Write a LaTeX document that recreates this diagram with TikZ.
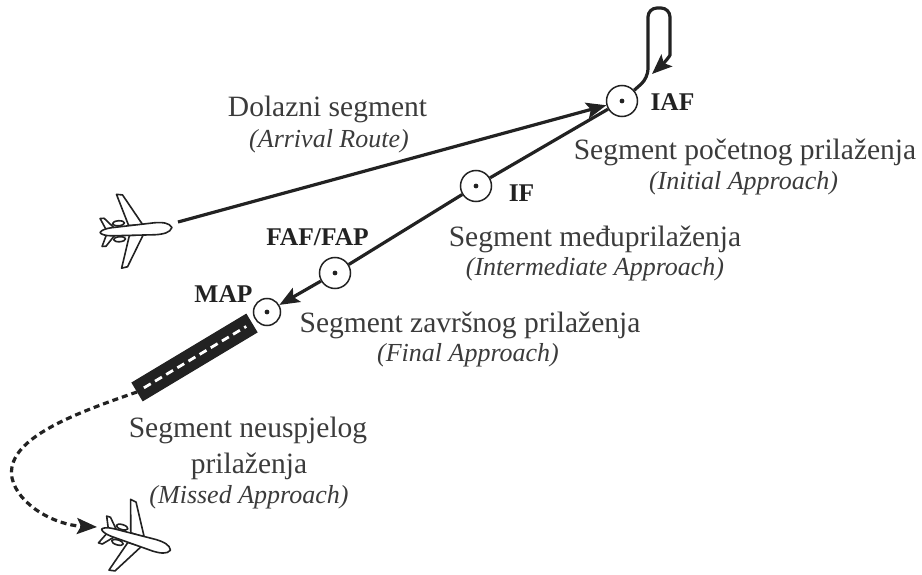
\documentclass[tikz,border=0pt]{standalone}
\usepackage{fontspec}
\setmainfont{Liberation Serif}
\usepackage{xcolor}
\usepackage{tikz}
\usetikzlibrary{arrows.meta}
\usetikzlibrary{calc}
\usetikzlibrary{positioning}

\definecolor{ink}{HTML}{222222}
\definecolor{txt}{HTML}{3B3B3B}

\tikzset{jet/.style={draw=ink, fill=white, line width=1.6pt, line join=round}}

\newcommand{\aircraft}[3]{%
  \begin{scope}[shift={(#1,#2)}, rotate=#3]
    \filldraw[jet] (6,-5) -- (-12,-36) -- (-18,-37) -- (-8,-5) -- cycle;
    \filldraw[jet] (6,5) -- (-12,36) -- (-18,37) -- (-8,5) -- cycle;
    \filldraw[jet] (-22,-3) -- (-32,-14) -- (-36,-14) -- (-31,-3) -- cycle;
    \filldraw[jet] (-22,3) -- (-32,14) -- (-36,14) -- (-31,3) -- cycle;
    \filldraw[jet] (35,0) .. controls (33,-5) and (26,-6) .. (18,-6) -- (-26,-4)
      .. controls (-32,-3.5) and (-36,-2) .. (-37,0)
      .. controls (-36,2) and (-32,3.5) .. (-26,4) -- (18,6)
      .. controls (26,6) and (33,5) .. (35,0) -- cycle;
    \filldraw[jet] (-18,-8) ellipse (6 and 2.5);
    \filldraw[jet] (-18,8) ellipse (6 and 2.5);
  \end{scope}}

\begin{document}
\begin{tikzpicture}[x=1pt, y=-1pt]
  \tikzstyle{fix}=[draw=ink, circle, line width=1.5pt, minimum size=31pt, inner sep=0pt,
    path picture={\fill[ink] (path picture bounding box.center) circle (2.4pt);}]
  \tikzstyle{route}=[draw=ink, line width=3.2pt]
  \tikzstyle{tip}=[-{Stealth[length=20pt,width=16pt,inset=4pt]}]
  \tikzstyle{seg}=[text=txt, inner sep=0pt, anchor=base, font=\fontsize{29.5}{34}\selectfont]
  \tikzstyle{eng}=[text=txt, inner sep=0pt, anchor=base, font=\fontsize{26}{30}\selectfont\itshape]
  \tikzstyle{lbl}=[text=ink, inner sep=0pt, anchor=base, font=\fontsize{25.5}{30}\selectfont\bfseries]

  \useasboundingbox (0,0) rectangle (922,575);

  % fixes
  \node[fix] (IAF) at (622,101) {};
  \node[fix] (IF) at (476,186) {};
  \node[fix] (FAF) at (335,273) {};
  \node[fix, minimum size=27pt] (MAP) at (267,312) {};

  \node[lbl] (IAFl) at (672.5,111) {IAF};
  \node[lbl] (IFl) at (521.5,202) {IF};
  \node[lbl] (FAFl) at (317.5,246) {FAF/FAP};
  \node[lbl] (MAPl) at (223.5,302) {MAP};

  % runway
  \coordinate (rwA) at (137,392);
  \coordinate (rwB) at (252,323);
  \draw[ink, line width=22pt] (rwA) -- (rwB);
  \draw[white, line width=2.8pt, dash pattern=on 8pt off 5pt] ($(rwA)!0.06!(rwB)$) -- ($(rwA)!0.95!(rwB)$);

  % aircraft
  \aircraft{137}{230}{4}
  \aircraft{137}{540}{-17}

  \coordinate (arr) at (178,222);
  \coordinate (miss) at (97,527);
  \coordinate (hold) at (652,74);

  % segments
  \draw[route, tip] (arr) -- (IAF);
  \draw[route, tip, rounded corners=9pt] (IAF) -- (648,78) -- (648,8) -- (670,8) -- (670,46)
    .. controls (670,56) and (664,63) .. (hold);
  \draw[route] (IAF) -- (IF);
  \draw[route] (IF) -- (FAF);
  \draw[route, tip] (FAF) -- (MAP);
  \draw[route, tip, dash pattern=on 6pt off 4pt] (rwA) .. controls (70,415) and (5,440) .. (12,478)
    .. controls (18,505) and (55,525) .. (miss);

  % texts
  \node[seg] (dol) at (327.5,117) {Dolazni segment};
  \node[eng] (dolE) at (329,148) {(Arrival Route)};
  \node[seg] (ini) at (745,160) {Segment početnog prilaženja};
  \node[eng] (iniE) at (743.5,190) {(Initial Approach)};
  \node[seg] (med) at (595,247) {Segment međuprilaženja};
  \node[eng] (medE) at (595,276) {(Intermediate Approach)};
  \node[seg] (zav) at (470,332) {Segment završnog prilaženja};
  \node[eng] (zavE) at (468,361) {(Final Approach)};
  \node[seg] (neu) at (248,437) {Segment neuspjelog};
  \node[seg] (neu2) at (249,473) {prilaženja};
  \node[eng] (neuE) at (249,503) {(Missed Approach)};
\end{tikzpicture}
\end{document}
